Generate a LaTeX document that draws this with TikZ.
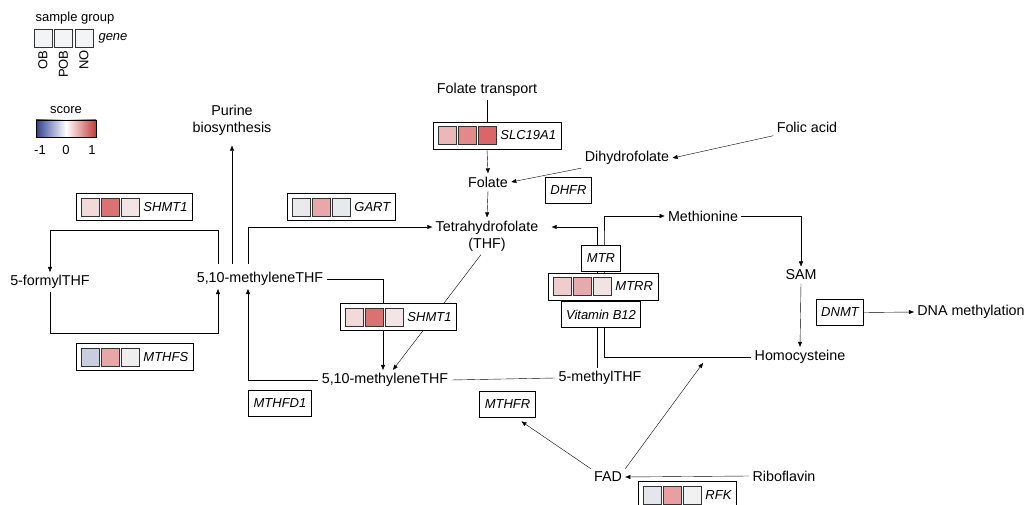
\documentclass[tikz,border=0pt]{standalone}
\usepackage{fontspec}
\setmainfont{Liberation Sans}
\usepackage{tikz}
\usetikzlibrary{positioning, arrows.meta, calc, backgrounds}

\definecolor{shmA}{HTML}{F2DADB}
\definecolor{shmB}{HTML}{DC7172}
\definecolor{shmC}{HTML}{F3E5E6}
\definecolor{gartA}{HTML}{EAEAEC}
\definecolor{gartB}{HTML}{E8A8A9}
\definecolor{gartC}{HTML}{E8E9ED}
\definecolor{mthfsA}{HTML}{C9CDE0}
\definecolor{mthfsB}{HTML}{E9A6A7}
\definecolor{mthfsC}{HTML}{EEEEEF}
\definecolor{slcA}{HTML}{EBB8BA}
\definecolor{slcB}{HTML}{E28A8B}
\definecolor{slcC}{HTML}{DB6567}
\definecolor{mtrrA}{HTML}{F0CCCD}
\definecolor{mtrrB}{HTML}{E7A9AB}
\definecolor{mtrrC}{HTML}{F2E3E3}
\definecolor{rfkA}{HTML}{E4E6EC}
\definecolor{rfkB}{HTML}{E89FA1}
\definecolor{rfkC}{HTML}{F1F1F1}
\definecolor{lgdgray}{HTML}{F3F4F5}
\definecolor{cbblue}{HTML}{2E3F8F}
\definecolor{cbred}{HTML}{C23B37}

\begin{document}
\begin{tikzpicture}[
    x=1pt,y=-1pt,line width=0.9pt,
    metab/.style={font=\fontsize{14.3}{17}\selectfont, inner sep=3pt, align=center},
    genebox/.style={draw, fill=white, font=\fontsize{13}{15}\selectfont\itshape, minimum height=26pt, inner xsep=5pt, inner ysep=0pt},
    hmbox/.style={genebox, anchor=west, minimum height=27pt, align=left},
    cell/.style={draw=black!80, minimum size=18pt, inner sep=0pt, line width=0.7pt},
    lgd/.style={font=\fontsize{13}{15}\selectfont, inner sep=1pt},
    arr/.style={-{Triangle[length=5pt,width=4pt]}}
]
    \useasboundingbox (0,0) rectangle (1029,505);

    % Legend
    \node[lgd] (lgtitle) at (75,18) {sample group};
    \node[cell, fill=lgdgray] (lg1) at (43,38) {};
    \node[cell, fill=lgdgray] (lg2) at (63.5,38) {};
    \node[cell, fill=lgdgray] (lg3) at (84,38) {};
    \node[lgd, font=\fontsize{13}{15}\selectfont\itshape] (lggene) at (113,38) {gene};
    \node[lgd, rotate=90, anchor=east] (lgob) at (43,49) {OB};
    \node[lgd, rotate=90, anchor=east] (lgpob) at (63.5,49) {POB};
    \node[lgd, rotate=90, anchor=east] (lgno) at (84,49) {NO};
    \node[lgd] (sctitle) at (66,110) {score};
    \node[draw, minimum width=60pt, minimum height=17pt, inner sep=0pt, line width=0.7pt,
          left color=cbblue, right color=cbred, middle color=white] (cbar) at (66,128.5) {};
    \node[lgd] (scmin) at (40,150) {-1};
    \node[lgd] (sczero) at (66,150) {0};
    \node[lgd] (scmax) at (92,150) {1};

    % Metabolites
    \node[metab] (purine) at (232,120) {Purine\\biosynthesis};
    \node[metab] (formyl) at (50,282) {5-formylTHF};
    \node[metab] (mthf1) at (260,279) {5,10-methyleneTHF};
    \node[metab] (thf) at (487,236) {Tetrahydrofolate\\(THF)};
    \node[metab] (mthf2) at (385,380) {5,10-methyleneTHF};
    \node[metab] (methyl) at (600,378) {5-methylTHF};
    \node[metab] (ftrans) at (487,90) {Folate transport};
    \node[metab] (folate) at (488,182) {Folate};
    \node[metab] (dhf) at (627,158) {Dihydrofolate};
    \node[metab] (folic) at (807,127) {Folic acid};
    \node[metab] (methio) at (703,216) {Methionine};
    \node[metab] (sam) at (801,275) {SAM};
    \node[metab] (homocys) at (800,357) {Homocysteine};
    \node[metab] (dnameth) at (971,312) {DNA methylation};
    \node[metab] (fad) at (608,477) {FAD};
    \node[metab] (ribo) at (784,476) {Riboflavin};
    \coordinate (hcyin) at (703,363);

    % Genes with heat cells
    \node[hmbox] (shmt1a) at (76,207) {\hspace*{62pt}SHMT1};
    \node[cell, fill=shmA] (shmt1a1) at ($(shmt1a.west)+(14,0)$) {};
    \node[cell, fill=shmB] (shmt1a2) at ($(shmt1a.west)+(34,0)$) {};
    \node[cell, fill=shmC] (shmt1a3) at ($(shmt1a.west)+(54,0)$) {};

    \node[hmbox] (gart) at (287,207) {\hspace*{62pt}GART};
    \node[cell, fill=gartA] (gart1) at ($(gart.west)+(14,0)$) {};
    \node[cell, fill=gartB] (gart2) at ($(gart.west)+(34,0)$) {};
    \node[cell, fill=gartC] (gart3) at ($(gart.west)+(54,0)$) {};

    \node[hmbox] (mthfs) at (76,357) {\hspace*{62pt}MTHFS};
    \node[cell, fill=mthfsA] (mthfs1) at ($(mthfs.west)+(14,0)$) {};
    \node[cell, fill=mthfsB] (mthfs2) at ($(mthfs.west)+(34,0)$) {};
    \node[cell, fill=mthfsC] (mthfs3) at ($(mthfs.west)+(54,0)$) {};

    \node[hmbox] (shmt1b) at (340,317) {\hspace*{62pt}SHMT1};
    \node[cell, fill=shmA] (shmt1b1) at ($(shmt1b.west)+(14,0)$) {};
    \node[cell, fill=shmB] (shmt1b2) at ($(shmt1b.west)+(34,0)$) {};
    \node[cell, fill=shmC] (shmt1b3) at ($(shmt1b.west)+(54,0)$) {};

    \node[hmbox] (slc) at (433,135.5) {\hspace*{62pt}SLC19A1};
    \node[cell, fill=slcA] (slc1) at ($(slc.west)+(14,0)$) {};
    \node[cell, fill=slcB] (slc2) at ($(slc.west)+(34,0)$) {};
    \node[cell, fill=slcC] (slc3) at ($(slc.west)+(54,0)$) {};

    \node[hmbox] (mtrr) at (548,286.5) {\hspace*{62pt}MTRR};
    \node[cell, fill=mtrrA] (mtrr1) at ($(mtrr.west)+(14,0)$) {};
    \node[cell, fill=mtrrB] (mtrr2) at ($(mtrr.west)+(34,0)$) {};
    \node[cell, fill=mtrrC] (mtrr3) at ($(mtrr.west)+(54,0)$) {};

    \node[hmbox] (rfk) at (638,495) {\hspace*{62pt}RFK};
    \node[cell, fill=rfkA] (rfk1) at ($(rfk.west)+(14,0)$) {};
    \node[cell, fill=rfkB] (rfk2) at ($(rfk.west)+(34,0)$) {};
    \node[cell, fill=rfkC] (rfk3) at ($(rfk.west)+(54,0)$) {};

    % Genes without cells
    \node[genebox] (dhfr) at (568.5,190) {DHFR};
    \node[genebox] (mthfd1) at (280,403.5) {MTHFD1};
    \node[genebox] (mthfr) at (507.5,404) {MTHFR};
    \node[genebox] (mtr) at (601,258) {MTR};
    \node[genebox] (vitb) at (601,314.5) {Vitamin B12};
    \node[genebox] (dnmt) at (840,312.5) {DNMT};

    % Connectors
    \begin{scope}[on background layer]
    \draw[arr] ([xshift=-42pt,yshift=5pt]mthf1.north) -- ++(0,-34) -| (formyl.north);
    \draw[arr] (formyl.south) -- ++(0,41) -| ([xshift=-42pt]mthf1.south);
    \draw[arr] ([xshift=-28pt,yshift=5pt]mthf1.north) -- ([yshift=-7pt]purine.south);
    \draw[arr] ([xshift=-12pt,yshift=5pt]mthf1.north) |- ([yshift=9pt]thf.west);
    \draw[arr] (mthf1.east) -| ([xshift=-2pt]mthf2.north);
    \draw[arr] ([xshift=-6pt]thf.south) -- ([xshift=8pt]mthf2.north);
    \draw[arr] (mthf2.west) -| ([xshift=-12pt]mthf1.south);
    \draw (mthf2.east) -- (methyl.west);
    \draw (ftrans.south) -- (ftrans.south |- slc.north);
    \draw[arr] (ftrans.south |- slc.south) -- (folate.north);
    \draw[arr] (folate.south) -- (thf.north);
    \draw[arr] (dhf.south west) -- (folate.east);
    \draw[arr] (folic.south west) -- (dhf.east);
    \draw[arr] ([xshift=-3pt]methyl.north) |- ([xshift=10pt,yshift=9pt]thf.east);
    \draw[arr] (homocys.west) -| ([xshift=3pt]mtr.north) |- (methio.west);
    \draw[arr] (methio.east) -| (sam.north);
    \draw[arr] (sam.south) -- (homocys.north);
    \draw[arr] (dnmt.east) -- (dnameth.west);
    \draw[arr] (fad.north west) -- ([xshift=14pt,yshift=-4pt]mthfr.south);
    \draw[arr] (fad.north east) -- (hcyin);
    \draw[arr] (ribo.west) -- (fad.east);
    \end{scope}

\end{tikzpicture}
\end{document}
